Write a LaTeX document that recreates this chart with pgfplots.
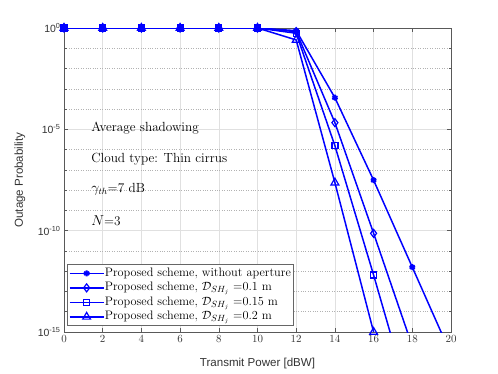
\documentclass[border=0pt]{standalone}
\usepackage{pgfplots}
\pgfplotsset{compat=1.18}
\usepackage{fontspec}
\newfontfamily\hv{Liberation Sans}
\usetikzlibrary{calc}
\definecolor{pblue}{RGB}{0,0,255}
\begin{document}
\begin{tikzpicture}
\begin{semilogyaxis}[name=ax, scale only axis, width=387bp, height=304bp,
  xmin=0, xmax=20, ymin=1e-15, ymax=1,
  xtick={0,2,...,20},
  ytick={1e-15,1e-10,1e-5,1},
  yticklabels={10\textsuperscript{-15},10\textsuperscript{-10},10\textsuperscript{-5},10\textsuperscript{0}},
  minor ytick={1e-14,1e-13,1e-12,1e-11,1e-9,1e-8,1e-7,1e-6,1e-4,1e-3,1e-2,1e-1},
  xmajorgrids, ymajorgrids, yminorgrids,
  major grid style={black!12, line width=0.6bp},
  minor grid style={black!30, dotted, line width=0.6bp},
  axis line style={black!65, line width=0.6bp},
  tick style={black!65, line width=0.6bp},
  major tick length=4bp, minor tick length=2.5bp,
  tick align=inside,
  xticklabel style={font=\hv\fontsize{10.5}{12}\selectfont, black!80},
  yticklabel style={font=\hv\fontsize{10.5}{12}\selectfont, black!80},
  xlabel={Transmit Power [dBW]},
  ylabel={Outage Probability},
  xlabel style={font=\hv\fontsize{11.6}{13}\selectfont, black!80, at={(axis description cs:0.5,-0.102)}, anchor=center},
  ylabel style={font=\hv\fontsize{11.6}{13}\selectfont, black!80, at={(axis description cs:-0.114,0.5)}, anchor=center},
  legend cell align=left,
  legend style={at={(axis description cs:0.008,0.02)}, anchor=south west,
    font=\fontsize{12.3}{14}\selectfont, draw=black!60, line width=0.6bp,
    inner sep=1.5bp, row sep=0pt,
    nodes={inner sep=0.5bp, text height=9.5bp, text depth=4bp}},
  legend image code/.code={\draw[mark indices={2}] plot coordinates {(0cm,0cm)(0.6cm,0cm)(1.2cm,0cm)};},
]
\addplot[pblue, line width=1.5bp, mark=asterisk, mark size=3bp, mark options={solid, line width=2bp}, mark indices={1,2,3,4,5,6,7,8,9,10}]
  coordinates {(0,1)(2,1)(4,1)(6,1)(8,1)(10,1)(12,0.74)(14,3.63e-4)(16,3.09e-8)(18,1.58e-12)(20,7.9e-17)};
\addlegendentry{Proposed scheme, without aperture}
\addplot[pblue, line width=1.5bp, mark=diamond, mark size=4bp, mark options={solid, fill=none, line width=1.2bp}, mark indices={1,2,3,4,5,6,7,8,9}]
  coordinates {(0,1)(2,1)(4,1)(6,1)(8,1)(10,1)(12,0.66)(14,2.14e-5)(16,7.41e-11)(18,2.0e-16)};
\addlegendentry{Proposed scheme, $\mathcal{D}_{SH_j}$ =0.1 m}
\addplot[pblue, line width=1.5bp, mark=square, mark size=3bp, mark options={solid, fill=none, line width=1.2bp}, mark indices={1,2,3,4,5,6,7,8,9}]
  coordinates {(0,1)(2,1)(4,1)(6,1)(8,1)(10,1)(12,0.55)(14,1.55e-6)(16,6.46e-13)(18,1.58e-19)};
\addlegendentry{Proposed scheme, $\mathcal{D}_{SH_j}$ =0.15 m}
\addplot[pblue, line width=1.5bp, mark=triangle, mark size=4.5bp, mark options={solid, fill=none, line width=1.2bp}]
  coordinates {(0,1)(2,1)(4,1)(6,1)(8,1)(10,1)(12,0.257)(14,2.34e-8)(16,1e-15)};
\addlegendentry{Proposed scheme, $\mathcal{D}_{SH_j}$ =0.2 m}
\node[anchor=west, font=\fontsize{13.3}{15}\selectfont, inner sep=0pt] at (axis cs:1.4,1.17e-5) {Average shadowing};
\node[anchor=west, font=\fontsize{13.3}{15}\selectfont, inner sep=0pt] at (axis cs:1.4,3.5e-7) {Cloud type: Thin cirrus};
\node[anchor=west, font=\fontsize{13.3}{15}\selectfont, inner sep=0pt] at (axis cs:1.4,1.15e-8) {$\gamma_{th}$=7 dB};
\node[anchor=west, font=\fontsize{13.3}{15}\selectfont, inner sep=0pt] at (axis cs:1.4,3.0e-10) {$N$=3};
\end{semilogyaxis}
\pgfresetboundingbox
\path[use as bounding box] ($(ax.south west)+(-64bp,-42bp)$) rectangle ($(ax.north east)+(47bp,28bp)$);
\end{tikzpicture}
\end{document}
